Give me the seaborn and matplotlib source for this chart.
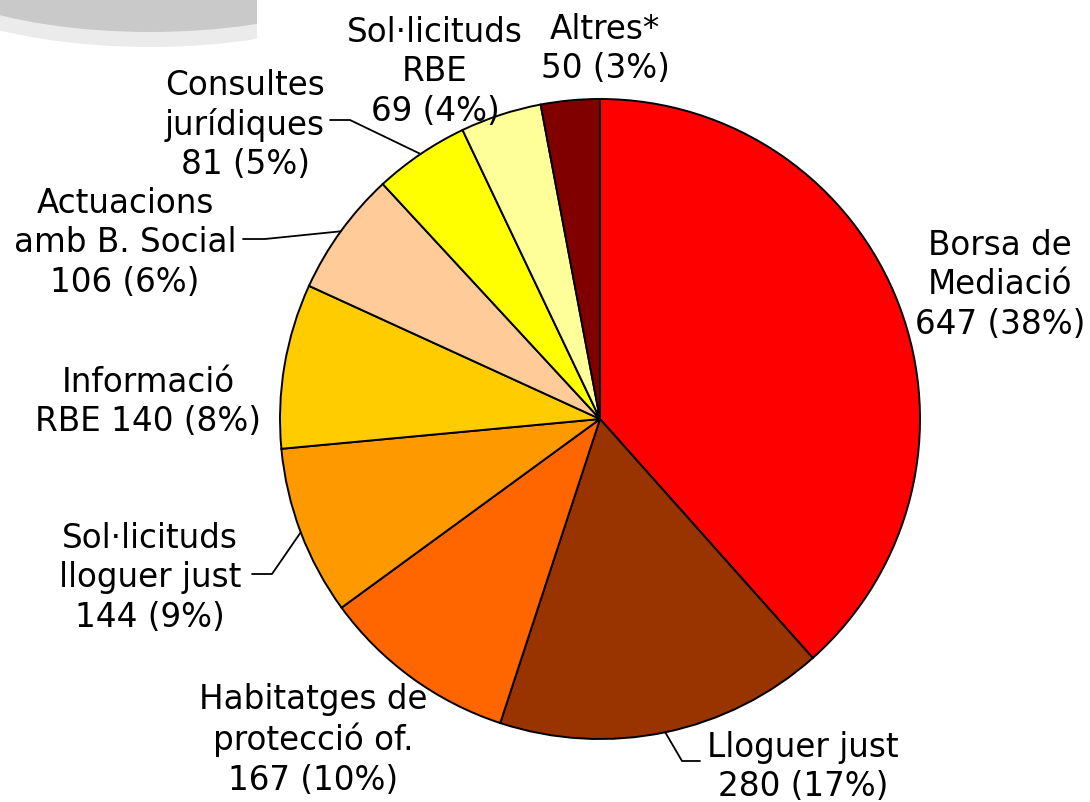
import numpy as np
import matplotlib
matplotlib.use("Agg")
import matplotlib.pyplot as plt
import seaborn as sns
from matplotlib.patches import Ellipse, Rectangle

# ---- data ----
categories = ["Borsa de\nMediació", "Lloguer just", "Habitatges de\nprotecció of.",
              "Sol·licituds\nlloguer just", "Informació\nRBE", "Actuacions\namb B. Social",
              "Consultes\njurídiques", "Sol·licituds\nRBE", "Altres*"]
values = [647, 280, 167, 144, 140, 106, 81, 69, 50]
percents = [38, 17, 10, 9, 8, 6, 5, 4, 3]
colors = ["#FF0000", "#993300", "#FF6600", "#FF9900", "#FFCC00",
          "#FFCC99", "#FFFF00", "#FFFF99", "#800000"]

label_texts = [
    "Borsa de\nMediació\n647 (38%)",
    "Lloguer just\n280 (17%)",
    "Habitatges de\nprotecció of.\n167 (10%)",
    "Sol·licituds\nlloguer just\n144 (9%)",
    "Informació\nRBE 140 (8%)",
    "Actuacions\namb B. Social\n106 (6%)",
    "Consultes\njurídiques\n81 (5%)",
    "Sol·licituds\nRBE\n69 (4%)",
    "Altres*\n50 (3%)",
]

sns.set_theme(style="white")
plt.rcParams['font.family'] = ['DejaVu Sans']

W, H = 1090, 803
fig = plt.figure(figsize=(W / 100, H / 100), dpi=100)
ax = fig.add_axes([0, 0, 1, 1])

CX, CY, R = 600, 420, 320  # pixel geometry


def px(x, y):
    return ((x - CX) / R, (CY - y) / R)


wedges, _ = ax.pie(values, colors=colors, startangle=90, counterclock=False,
                   radius=1.0, center=(0, 0),
                   wedgeprops=dict(edgecolor="black", linewidth=1.4))
ax.set_xlim(px(0, 0)[0], px(W, 0)[0])
ax.set_ylim(px(0, H)[1], px(0, 0)[1])
ax.set_aspect("equal")
ax.axis("off")

# faint grey background artefact at top-left, clipped at a vertical edge
clip = Rectangle(px(-10, 80), 267 / R, 200 / R, transform=ax.transData)
for (a, b, c) in [(285, 110, "#ebebeb"), (265, 95, "#c9c9c9")]:
    e = Ellipse(px(150, -62), 2 * a / R, 2 * b / R, facecolor=c, edgecolor="none", zorder=0)
    ax.add_patch(e)
    e.set_clip_path(clip)

# label centres (pixels)
label_pos = [(1000, 285), (803, 767), (313, 740), (150, 578), (148, 402),
             (125, 243), (245, 125), (435, 72), (605, 49)]

fs = 23.5
for txt, (lx, ly) in zip(label_texts, label_pos):
    ax.text(*px(lx, ly), txt, ha="center", va="center", multialignment="center",
            fontsize=fs, color="black", linespacing=1.24)

# leader lines: (wedge index -> elbow, end)
leaders = {
    1: [(682, 762), (700, 762)],
    3: [(272, 575), (252, 575)],
    5: [(265, 240), (243, 240)],
    6: [(350, 121), (330, 121)],
}
for i, pts in leaders.items():
    w = wedges[i]
    ang = np.deg2rad((w.theta1 + w.theta2) / 2)
    sx, sy = np.cos(ang), np.sin(ang)
    xs = [sx] + [px(*p)[0] for p in pts]
    ys = [sy] + [px(*p)[1] for p in pts]
    ax.plot(xs, ys, color="black", lw=1.3, zorder=3)

fig.savefig("out.png", dpi=100, facecolor="white")
